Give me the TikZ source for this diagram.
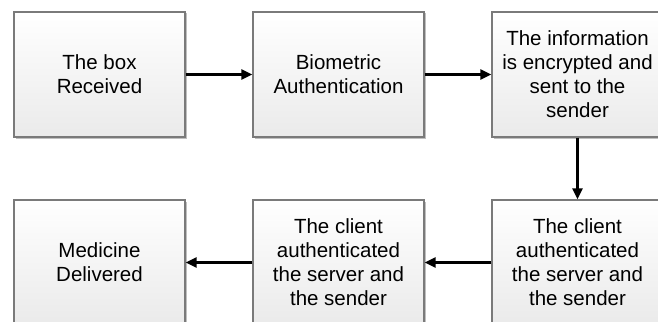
\documentclass[tikz,border=0pt]{standalone}
\usepackage{fontspec}
\setmainfont{Liberation Sans}
\usetikzlibrary{arrows.meta,shadows}
\definecolor{boxedge}{HTML}{7A7A7A}
\definecolor{boxbottom}{HTML}{EAEAEA}
\begin{document}
\begin{tikzpicture}[x=1pt,y=-1pt,
  stepbox/.style={draw=boxedge, line width=1.3pt, rectangle,
    minimum width=171pt, minimum height=125pt, inner sep=0pt,
    top color=white, bottom color=boxbottom,
    drop shadow={shadow xshift=1.5pt, shadow yshift=-1.5pt, opacity=0.25, fill=black},
    align=center, font=\fontsize{20.5}{24}\selectfont},
  flow/.style={line width=2.6pt, -{Triangle[length=11pt,width=10pt]}}]
  \useasboundingbox (0,0) rectangle (658,321);
  \clip (0,0) rectangle (658,321);
  % top row
  \node[stepbox] (recv) at (99.5,74.5) {The box\\Received};
  \node[stepbox] (bio)  at (338.5,74.5) {Biometric\\Authentication};
  \node[stepbox] (enc)  at (577.5,74.5) {The information\\is encrypted and\\sent to the\\sender};
  % bottom row
  \node[stepbox] (deliv) at (99.5,262.5) {Medicine\\Delivered};
  \node[stepbox] (auth2) at (338.5,262.5) {The client\\authenticated\\the server and\\the sender};
  \node[stepbox] (auth1) at (577.5,262.5) {The client\\authenticated\\the server and\\the sender};
  % connectors
  \draw[flow] (recv.east) -- (bio.west);
  \draw[flow] (bio.east) -- (enc.west);
  \draw[flow] (enc.south) -- (auth1.north);
  \draw[flow] (auth1.west) -- (auth2.east);
  \draw[flow] (auth2.west) -- (deliv.east);
\end{tikzpicture}
\end{document}
